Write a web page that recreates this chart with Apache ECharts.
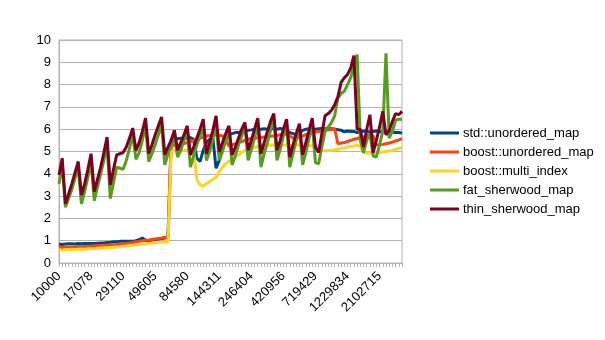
<!DOCTYPE html>
<html>
<head>
<meta charset="utf-8">
<script src="https://cdn.jsdelivr.net/npm/echarts@6/dist/echarts.min.js"></script>
<style>
  html, body { margin: 0; padding: 0; background: #ffffff; }
  #chart { width: 605px; height: 340px; }
</style>
</head>
<body>
<div id="chart"></div>
<script>
// Number of elements inserted (x axis categories)
const sizes = [
  10000, 10550, 11130, 11742, 12387, 13068, 13786, 14544, 15343, 16186,
  17078, 18013, 19000, 20040, 21137, 22294, 23515, 24803, 26161, 27594,
  29110, 30703, 32384, 34157, 36027, 37999, 40079, 42273, 44587, 47028,
  49605, 52324, 55192, 58217, 61408, 64774, 68324, 72069, 76019, 80186,
  84580, 89222, 94118, 99283, 104732, 110480, 116543, 122939, 129686, 136803,
  144311, 152242, 160609, 169436, 178748, 188571, 198934, 209867, 221401, 233568,
  246404, 259960, 274262, 289351, 305270, 322065, 339784, 358477, 378199, 399006,
  420956, 444132, 468584, 494382, 521600, 550317, 580615, 612581, 646307, 681890,
  719429, 759056, 800866, 844978, 891521, 940627, 992438, 1047103, 1104779, 1165631,
  1229834, 1297597, 1369093, 1444528, 1524120, 1608097, 1696701, 1790187, 1888824, 1992896,
  2102715, 2218575, 2340818, 2469797, 2605882, 2749466, 2900962, 3060805
];

const yTicks = [0, 1, 2, 3, 4, 5, 6, 7, 8, 9, 10];

const stdUnorderedMap = [
  0.85, 0.83, 0.85, 0.86, 0.86, 0.85, 0.87, 0.86, 0.88, 0.87,
  0.88, 0.87, 0.89, 0.90, 0.90, 0.92, 0.93, 0.95, 0.95, 0.97,
  0.97, 0.98, 0.98, 0.97, 1.00, 1.05, 1.12, 1.02, 1.00, 1.03,
  1.05, 1.07, 1.10, 1.12, 1.15, 5.55, 5.58, 5.57, 5.60, 5.58,
  5.60, 5.62, 5.55, 4.70, 4.55, 5.05, 5.40, 5.55, 5.60, 4.25,
  4.60, 5.20, 5.50, 5.75, 5.80, 5.85, 5.85, 5.90, 5.92, 5.95,
  5.97, 6.00, 6.00, 6.00, 6.02, 6.00, 6.02, 6.02, 6.00, 6.03,
  6.00, 5.95, 5.85, 5.80, 5.75, 5.80, 5.95, 6.00, 6.02, 6.00,
  6.00, 6.02, 6.03, 6.02, 6.03, 6.02, 6.00, 5.98, 5.95, 5.88,
  5.92, 5.90, 5.90, 5.85, 5.88, 5.92, 5.90, 5.88, 5.90, 5.92,
  5.88, 5.90, 5.85, 5.88, 5.87, 5.85, 5.85, 5.83
];

const boostUnorderedMap = [
  0.70, 0.70, 0.72, 0.72, 0.72, 0.73, 0.74, 0.73, 0.74, 0.75,
  0.75, 0.76, 0.77, 0.78, 0.79, 0.80, 0.81, 0.82, 0.83, 0.85,
  0.86, 0.88, 0.90, 0.92, 0.95, 0.97, 1.00, 1.02, 1.03, 1.05,
  1.08, 1.10, 1.12, 1.15, 1.20, 5.30, 5.28, 5.27, 5.30, 5.35,
  5.40, 5.45, 5.50, 5.55, 5.60, 5.65, 5.70, 5.72, 5.75, 5.75,
  5.73, 5.70, 5.50, 5.25, 5.30, 5.35, 5.40, 5.45, 5.50, 5.55,
  5.58, 5.60, 5.60, 5.62, 5.65, 5.65, 5.68, 5.70, 5.72, 5.75,
  5.77, 5.78, 5.70, 5.60, 5.60, 5.65, 5.70, 5.75, 5.80, 5.85,
  5.87, 5.90, 5.92, 5.95, 5.97, 6.00, 6.02, 5.35, 5.38, 5.40,
  5.45, 5.50, 5.55, 5.58, 5.62, 5.65, 5.70, 5.75, 5.70, 5.30,
  5.30, 5.32, 5.35, 5.38, 5.42, 5.47, 5.52, 5.58
];

const boostMultiIndex = [
  0.60, 0.58, 0.60, 0.60, 0.62, 0.60, 0.62, 0.63, 0.62, 0.64,
  0.65, 0.64, 0.66, 0.67, 0.68, 0.68, 0.70, 0.71, 0.72, 0.73,
  0.75, 0.76, 0.78, 0.80, 0.82, 0.83, 0.85, 0.86, 0.88, 0.90,
  0.91, 0.92, 0.93, 0.94, 0.95, 5.00, 5.05, 5.05, 5.05, 5.05,
  5.07, 5.05, 5.05, 3.75, 3.50, 3.45, 3.55, 3.65, 3.75, 3.85,
  4.10, 4.30, 4.45, 4.55, 4.65, 4.75, 4.85, 4.95, 5.05, 5.10,
  5.15, 5.20, 5.22, 5.25, 5.27, 5.28, 5.28, 5.30, 5.28, 5.30,
  5.28, 5.30, 5.28, 5.27, 5.28, 5.30, 5.28, 5.28, 5.27, 5.25,
  5.20, 5.10, 5.05, 5.03, 5.05, 5.05, 5.08, 5.10, 5.12, 5.15,
  5.20, 5.22, 5.25, 5.28, 5.25, 4.95, 4.93, 4.93, 4.93, 4.95,
  4.95, 4.98, 5.00, 5.03, 5.05, 5.10, 5.15, 5.17
];

const fatSherwoodMap = [
  3.55, 4.40, 2.50, 2.90, 3.30, 3.80, 4.25, 2.65, 3.20, 3.85,
  4.55, 2.80, 3.40, 4.00, 4.60, 5.30, 2.90, 3.60, 4.30, 4.25,
  4.20, 4.60, 5.15, 5.75, 4.65, 4.95, 5.50, 6.15, 4.55, 4.90,
  5.30, 5.75, 6.20, 4.40, 4.90, 5.30, 5.65, 4.75, 5.05, 5.50,
  5.95, 4.30, 4.80, 5.30, 5.70, 6.00, 4.60, 5.00, 5.55, 6.20,
  4.60, 5.00, 5.50, 5.95, 4.40, 4.80, 5.30, 5.70, 6.10, 4.60,
  5.10, 5.60, 6.25, 4.30, 4.90, 5.40, 5.95, 6.50, 4.60, 5.10,
  5.70, 6.25, 4.30, 4.90, 5.50, 6.05, 4.40, 4.95, 5.60, 6.20,
  4.50, 4.45, 5.20, 5.90, 6.10, 6.30, 6.60, 7.40, 7.60, 7.70,
  8.00, 8.30, 8.90, 9.35, 5.50, 4.95, 5.50, 5.80, 4.80, 4.75,
  5.30, 5.90, 9.40, 5.60, 5.90, 6.40, 6.45, 6.45
];

const thinSherwoodMap = [
  3.95, 4.70, 2.65, 3.10, 3.55, 4.05, 4.55, 3.05, 3.55, 4.20,
  4.90, 3.20, 3.75, 4.30, 4.95, 5.65, 3.50, 4.20, 4.85, 4.90,
  4.95, 5.20, 5.60, 6.05, 5.05, 5.40, 5.90, 6.50, 4.90, 5.30,
  5.75, 6.15, 6.55, 4.85, 5.20, 5.50, 5.95, 5.05, 5.40, 5.75,
  6.15, 4.85, 5.20, 5.60, 6.00, 6.45, 4.90, 5.40, 5.95, 6.60,
  5.00, 5.40, 5.80, 6.15, 4.85, 5.20, 5.60, 6.00, 6.30, 5.05,
  5.50, 6.00, 6.50, 4.90, 5.40, 5.90, 6.35, 6.70, 5.05, 5.50,
  6.00, 6.45, 4.75, 5.30, 5.80, 6.25, 4.85, 5.40, 5.95, 6.50,
  5.20, 4.95, 5.80, 6.60, 6.70, 6.85, 7.10, 7.45, 8.10, 8.30,
  8.45, 8.75, 9.30, 6.00, 6.00, 5.20, 6.00, 6.65, 4.95, 5.50,
  6.10, 6.80, 5.75, 5.95, 6.35, 6.70, 6.65, 6.80
];

const seriesNames = [
  'std::unordered_map',
  'boost::unordered_map',
  'boost::multi_index',
  'fat_sherwood_map',
  'thin_sherwood_map'
];
const seriesValues = [stdUnorderedMap, boostUnorderedMap, boostMultiIndex, fatSherwoodMap, thinSherwoodMap];
const palette = ['#004586', '#ff420e', '#ffd320', '#579d1c', '#7e0021'];

const font = 'Liberation Sans, Arial, sans-serif';

const chart = echarts.init(document.getElementById('chart'), null, { renderer: 'canvas' });

chart.setOption({
  animation: false,
  backgroundColor: '#ffffff',
  color: palette,
  textStyle: { fontFamily: font },
  grid: {
    left: 59, right: 203, top: 40, bottom: 77,
    show: true, borderColor: '#b3b3b3', borderWidth: 1, backgroundColor: 'transparent'
  },
  legend: {
    orient: 'vertical',
    left: 425,
    top: 121,
    icon: 'rect',
    itemWidth: 29,
    itemHeight: 3,
    itemGap: 5,
    textStyle: { fontFamily: font, fontSize: 13, color: '#000', lineHeight: 14, padding: [0, 0, 0, -1] },
    data: seriesNames
  },
  xAxis: {
    type: 'category',
    data: sizes.map(String),
    boundaryGap: false,
    axisLine: { lineStyle: { color: '#b3b3b3', width: 1 } },
    axisTick: { show: true, interval: 0, length: 4, lineStyle: { color: '#b3b3b3' } },
    axisLabel: {
      interval: 9,
      rotate: 45,
      margin: 11,
      fontFamily: font,
      fontSize: 13,
      color: '#000'
    },
    splitLine: { show: false }
  },
  yAxis: {
    type: 'value',
    min: yTicks[0],
    max: yTicks[yTicks.length - 1],
    interval: 1,
    axisLine: { show: true, lineStyle: { color: '#b3b3b3' } },
    axisTick: { show: false },
    axisLabel: { fontFamily: font, fontSize: 13, color: '#000', margin: 8 },
    splitLine: { lineStyle: { color: '#b3b3b3', width: 1 } }
  },
  series: seriesNames.map((name, k) => ({
    name: name,
    type: 'line',
    data: seriesValues[k],
    showSymbol: false,
    symbol: 'none',
    lineStyle: { width: 3, color: palette[k] },
    itemStyle: { color: palette[k] },
    z: 2 + k
  }))
});
</script>
</body>
</html>
